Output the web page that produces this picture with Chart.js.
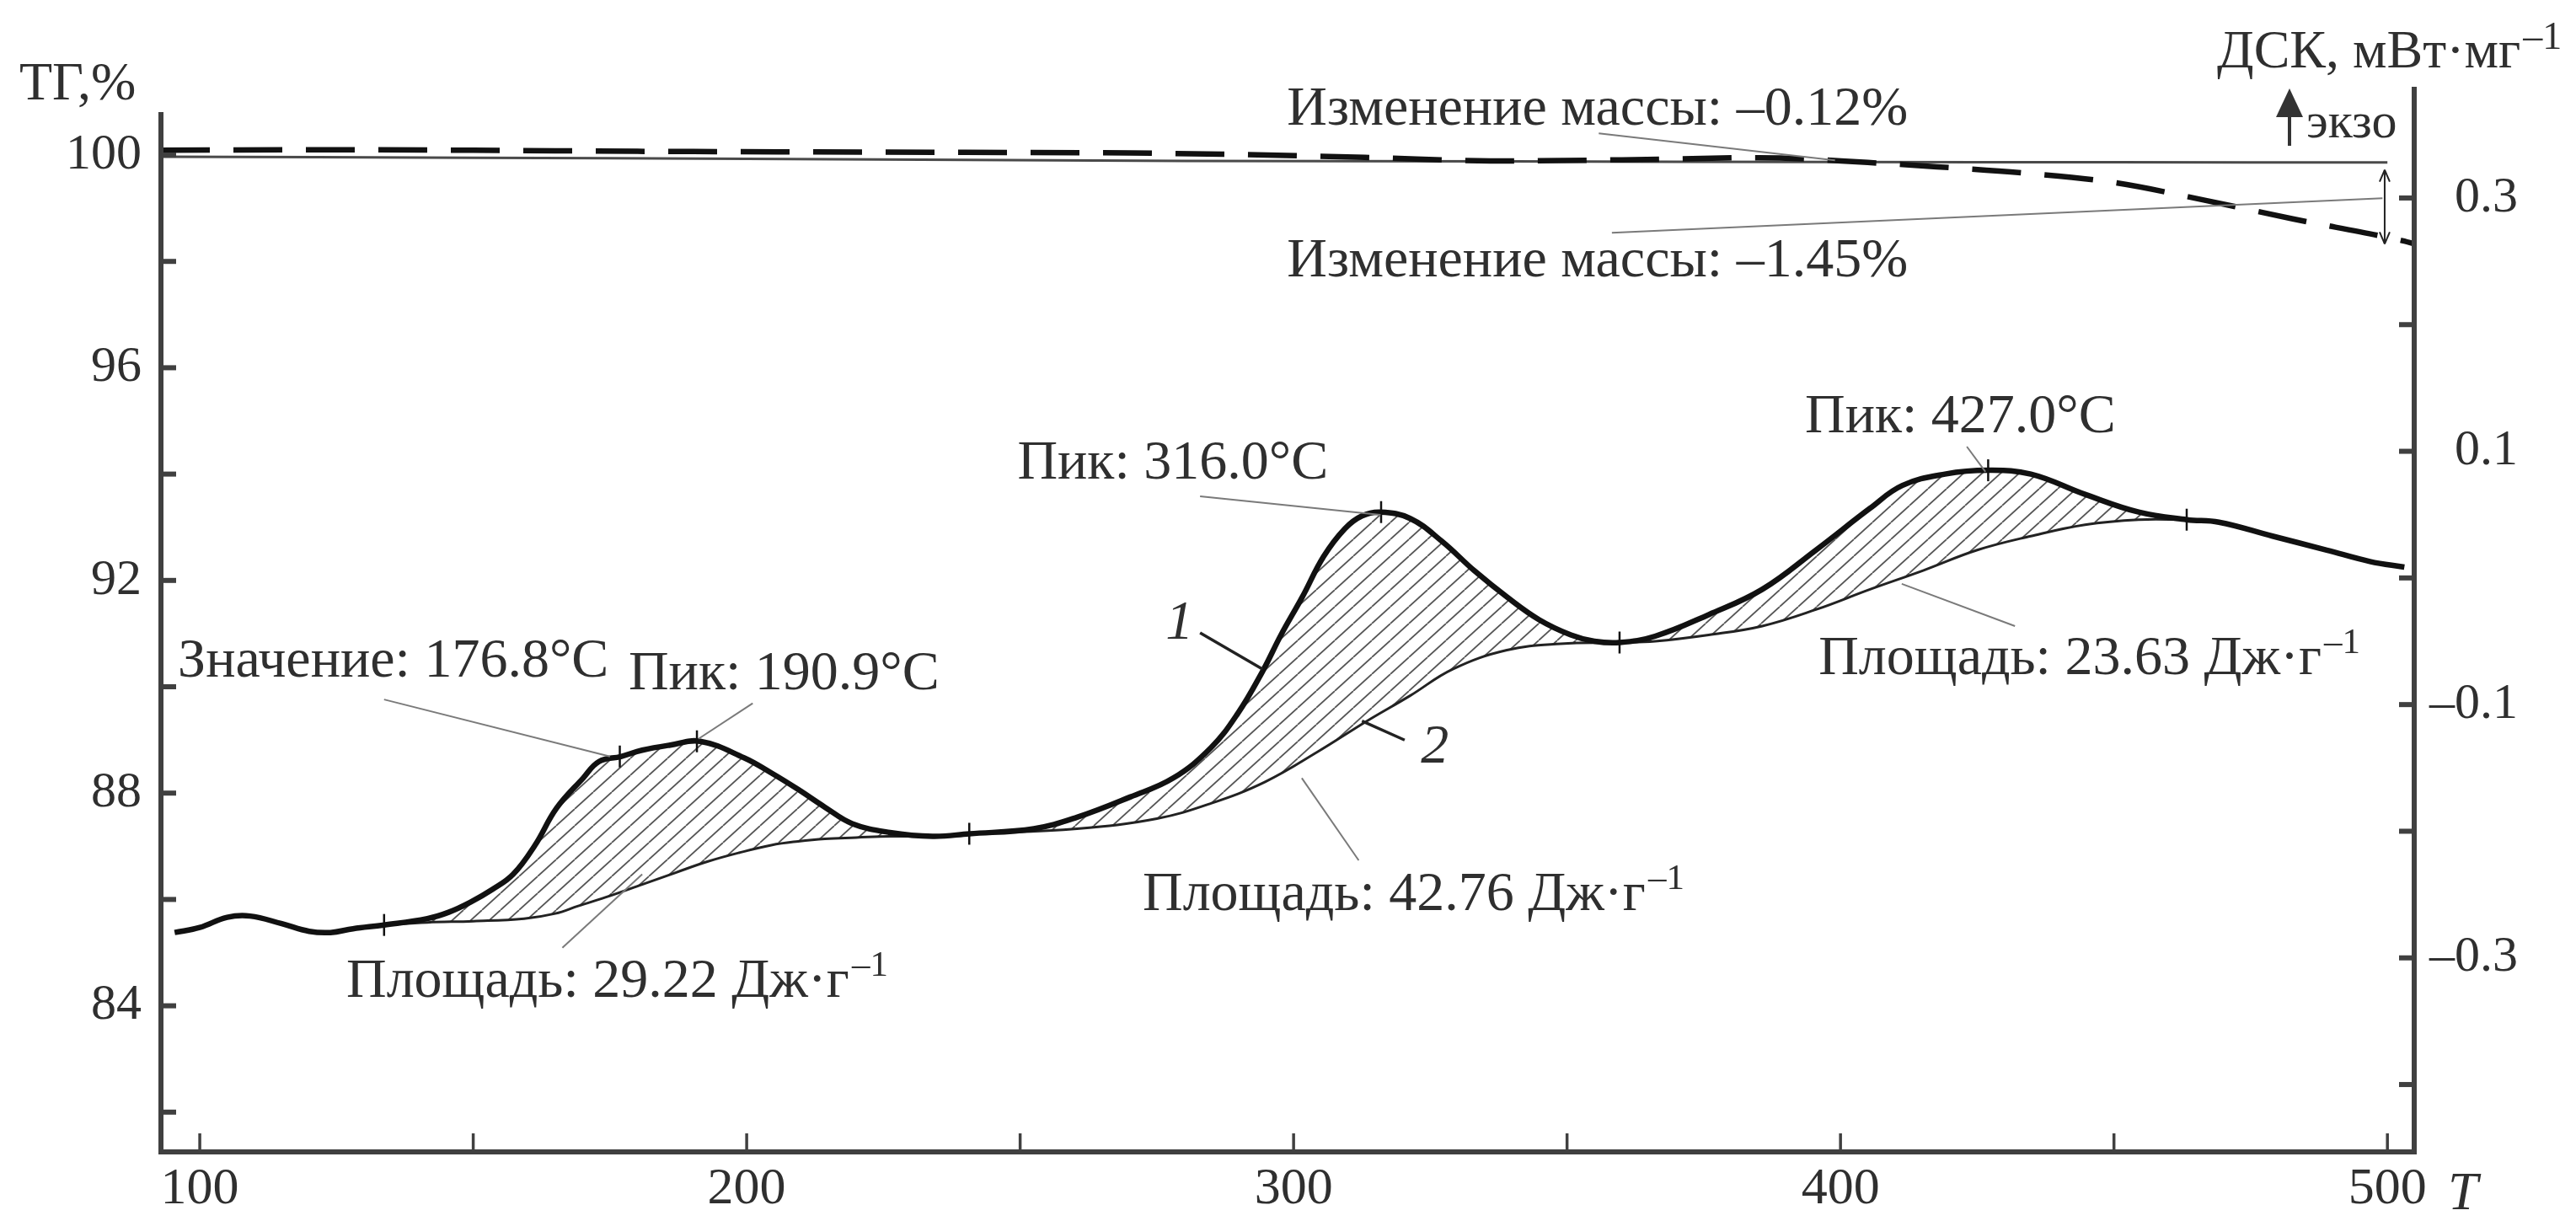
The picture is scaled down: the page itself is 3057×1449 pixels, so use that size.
<!DOCTYPE html>
<html>
<head>
<meta charset="utf-8">
<script src="https://cdn.jsdelivr.net/npm/chart.js@4.4.1/dist/chart.umd.min.js"></script>
<style>
  body { margin: 0; background: #fff; }
  canvas { display: block; }
</style>
</head>
<body>
<canvas id="dscChart" width="3057" height="1449"></canvas>
<script>
// --- TG curves, left axis (%) ---
const tgSolidTemps = [92.9, 150, 200, 280, 340, 400, 450, 500];
const tgSolid      = [99.97, 99.95, 99.93, 99.89, 99.88, 99.87, 99.865, 99.86];

const tgDashTemps = [92.9, 120, 150, 180, 210, 240, 270, 290, 315, 336, 360, 385, 405, 417.6, 433.9, 450.2, 466.6, 482.7, 502.3, 505];
const tgDashed    = [100.09, 100.1, 100.09, 100.07, 100.06, 100.05, 100.04, 100.01, 99.95, 99.89, 99.91, 99.95, 99.86, 99.78, 99.66, 99.48, 99.15, 98.8, 98.4, 98.33];

// --- DSC curve 1 (right axis, mW/mg) ---
const dscTemps = [95.4, 100, 105, 109.2, 115, 120, 123.9, 128, 133.7, 141.6, 145.5, 149.5, 153.5, 157.3, 161.3, 165.2, 170.1, 173, 177, 180.9, 186, 191.5,
  199.5, 204.5, 209.4, 214.3, 219.3, 226.2, 234, 240.7, 252.5, 260.4, 270.1, 278, 284.9, 289.8, 294.3, 297.7, 301.6, 305.5, 309.4, 312.5, 315.9,
  321.3, 327.1, 333.1, 339, 344.9, 350.7, 355, 359.6, 366.1, 375.9, 385.7, 395.5, 405.4, 411.3, 419.1, 427, 434.8, 444.7, 454.5, 463.3, 469.2,
  479, 488.9, 496.8, 503.1];
const dscMain = [-0.280, -0.276, -0.268, -0.267, -0.273, -0.279, -0.280, -0.277, -0.274, -0.269, -0.264, -0.256, -0.246, -0.234, -0.211, -0.182, -0.158, -0.145, -0.141, -0.136, -0.132, -0.129,
  -0.142, -0.154, -0.167, -0.181, -0.194, -0.201, -0.204, -0.202, -0.198, -0.189, -0.173, -0.158, -0.134, -0.107, -0.074, -0.045, -0.015, 0.017, 0.039, 0.049, 0.052,
  0.047, 0.029, 0.0055, -0.015, -0.033, -0.045, -0.050, -0.051, -0.046, -0.029, -0.009, 0.022, 0.055, 0.073, 0.082, 0.085, 0.082, 0.066, 0.052, 0.046, 0.044,
  0.033, 0.022, 0.013, 0.0085];

// --- DSC curve 2 (baseline under the peaks) ---
const baseTemps = [133.7, 141.6, 150, 159.3, 165, 169.2, 175, 180.9, 186.8, 192.8, 198.6, 204.5, 209.4, 214.3, 220, 226.2, 234, 240.7,
  260.4, 275, 284.9, 294.8, 304.5, 313.4, 321.3, 329.1, 339, 348.8, 359.6, 366.1, 375.9, 385.7, 395.5, 405.4, 415.2, 425, 434.8, 444.7, 454.5, 463.3];
const dscBase = [-0.274, -0.272, -0.271, -0.269, -0.265, -0.259, -0.251, -0.242, -0.233, -0.224, -0.217, -0.211, -0.208, -0.206, -0.205, -0.204, -0.204, -0.202,
  -0.198, -0.190, -0.178, -0.161, -0.137, -0.113, -0.093, -0.072, -0.057, -0.052, -0.051, -0.050, -0.045, -0.038, -0.025, -0.009, 0.006, 0.022, 0.033, 0.042, 0.046, 0.046];

// marked points on curve 1
const markTemps = [133.7, 176.8, 190.9, 240.7, 316, 359.6, 427, 463.3];
const markVals  = [-0.274, -0.141, -0.129, -0.202, 0.052, -0.051, 0.085, 0.046];

// ticks and labels
const xTicks = [100, 150, 200, 250, 300, 350, 400, 450, 500];
const xLabels = [100, 200, 300, 400, 500];
const tgTicks = [82, 84, 86, 88, 90, 92, 94, 96, 98, 100];
const tgLabels = [84, 88, 92, 96, 100];
const dscTicks = [-0.4, -0.3, -0.2, -0.1, 0, 0.1, 0.2, 0.3];
const dscLabels = [-0.3, -0.1, 0.1, 0.3];

const serif = '"Liberation Serif", "DejaVu Serif", serif';
const textColor = '#2f2f2f';
const axisColor = '#404040';

const pts = (xs, ys) => xs.map((x, i) => ({ x: x, y: ys[i] }));
const has = (arr, v) => arr.some(a => Math.abs(a - v) < 1e-6);

const canvas = document.getElementById('dscChart');
const ctx = canvas.getContext('2d');

// hatch pattern for the peak areas
function makeHatch() {
  const c = document.createElement('canvas');
  c.width = 22; c.height = 20;
  const g = c.getContext('2d');
  g.strokeStyle = '#555';
  g.lineWidth = 1.8;
  [-22, 0, 22].forEach(dx => {
    g.beginPath(); g.moveTo(dx, 20); g.lineTo(dx + 22, 0); g.stroke();
  });
  return ctx.createPattern(c, 'repeat');
}

// annotations (positions in data units)
const notes = [
  { text: 'Изменение массы: –0.12%', x: 298.8, y: 100.57, axis: 'yTG' },
  { text: 'Изменение массы: –1.45%', x: 298.8, y: 97.72, axis: 'yTG' },
  { text: 'Пик: 316.0°C', x: 249.5, y: 0.0784, axis: 'yDSC' },
  { text: 'Пик: 427.0°C', x: 393.5, y: 0.115, axis: 'yDSC' },
  { text: 'Значение: 176.8°C', x: 96, y: -0.078, axis: 'yDSC' },
  { text: 'Пик: 190.9°C', x: 178.4, y: -0.088, axis: 'yDSC' },
  { text: 'Площадь: 29.22 Дж·г', sup: '–1', x: 126.8, y: -0.331, axis: 'yDSC' },
  { text: 'Площадь: 42.76 Дж·г', sup: '–1', x: 272.4, y: -0.262, axis: 'yDSC' },
  { text: 'Площадь: 23.63 Дж·г', sup: '–1', x: 396, y: -0.076, axis: 'yDSC' },
  { text: '1', italic: true, x: 276.6, y: -0.048, axis: 'yDSC' },
  { text: '2', italic: true, x: 323.3, y: -0.146, axis: 'yDSC' }
];
const leaders = [
  { from: [355.8, 100.41], to: [399, 99.9], axis: 'yTG' },
  { from: [358.2, 98.54], to: [499.1, 99.19], axis: 'yTG' },
  { from: [282.9, 0.0645], to: [315.9, 0.0498], axis: 'yDSC' },
  { from: [423.1, 0.1037], to: [426.5, 0.0838], axis: 'yDSC' },
  { from: [411.2, -0.0047], to: [431.9, -0.038], axis: 'yDSC' },
  { from: [301.5, -0.158], to: [311.9, -0.223], axis: 'yDSC' },
  { from: [133.7, -0.096], to: [175, -0.141], axis: 'yDSC' },
  { from: [201.1, -0.099], to: [191.2, -0.127], axis: 'yDSC' },
  { from: [166.3, -0.292], to: [180.9, -0.234], axis: 'yDSC' },
  { from: [282.9, -0.0433], to: [294.3, -0.072], axis: 'yDSC', dark: true },
  { from: [320.3, -0.128], to: [312.5, -0.113], axis: 'yDSC', dark: true }
];

const decor = {
  id: 'decor',
  afterDraw(chart) {
    const c = chart.ctx, a = chart.chartArea, sc = chart.scales;
    const sx = sc.x, sTG = sc.yTG, sD = sc.yDSC;
    const line = (x1, y1, x2, y2) => { c.beginPath(); c.moveTo(x1, y1); c.lineTo(x2, y2); c.stroke(); };
    c.save();
    c.lineCap = 'butt';

    // axes and inward ticks
    c.strokeStyle = axisColor;
    c.lineWidth = 6;
    sTG.ticks.forEach(t => { const y = sTG.getPixelForValue(t.value); line(a.left, y, a.left + 18, y); });
    sD.ticks.forEach(t => { const y = sD.getPixelForValue(t.value); line(a.right - 18, y, a.right, y); });
    c.lineWidth = 3.5;
    sx.ticks.forEach(t => { const x = sx.getPixelForValue(t.value); line(x, a.bottom, x, a.bottom - 22); });
    c.lineWidth = 6;
    line(a.left, sTG.getPixelForValue(100.81), a.left, a.bottom + 3);
    line(a.right, a.top, a.right, a.bottom + 3);
    line(a.left - 3, a.bottom, a.right + 3, a.bottom);

    // leader lines
    leaders.forEach(l => {
      const ys = sc[l.axis];
      c.strokeStyle = l.dark ? '#222' : '#7a7a7a';
      c.lineWidth = l.dark ? 3.5 : 2;
      line(sx.getPixelForValue(l.from[0]), ys.getPixelForValue(l.from[1]),
           sx.getPixelForValue(l.to[0]), ys.getPixelForValue(l.to[1]));
    });

    // double arrow for the -1.45% mass change
    const ax = sx.getPixelForValue(499.5);
    const ay1 = sTG.getPixelForValue(99.72), ay2 = sTG.getPixelForValue(98.33);
    c.strokeStyle = '#222'; c.lineWidth = 2;
    line(ax, ay1, ax, ay2);
    line(ax - 6, ay1 + 14, ax, ay1); line(ax + 6, ay1 + 14, ax, ay1);
    line(ax - 6, ay2 - 14, ax, ay2); line(ax + 6, ay2 - 14, ax, ay2);

    // annotation texts
    c.fillStyle = textColor;
    c.textAlign = 'left';
    c.textBaseline = 'alphabetic';
    notes.forEach(n => {
      const x = sx.getPixelForValue(n.x), y = sc[n.axis].getPixelForValue(n.y);
      c.font = (n.italic ? 'italic ' : '') + '66px ' + serif;
      c.fillText(n.text, x, y);
      if (n.sup) {
        const w = c.measureText(n.text).width;
        c.font = '43px ' + serif;
        c.fillText(n.sup, x + w + 3, y - 25);
      }
    });

    // axis titles
    c.font = '64px ' + serif;
    c.fillText('ТГ,%', 23, 118);
    const dsk = 'ДСК, мВт·мг';
    c.fillText(dsk, 2631, 80);
    const dw = c.measureText(dsk).width;
    c.font = '46px ' + serif;
    c.fillText('–1', 2631 + dw + 3, 58);
    c.font = 'italic 64px ' + serif;
    c.fillText('T', a.right + 40, a.bottom + 68);

    // exo arrow
    const ex = a.right - 148;
    c.strokeStyle = '#333'; c.lineWidth = 4;
    line(ex, a.top + 30, ex, a.top + 70);
    c.fillStyle = '#333';
    c.beginPath(); c.moveTo(ex, a.top + 2); c.lineTo(ex - 16, a.top + 36); c.lineTo(ex + 16, a.top + 36); c.closePath(); c.fill();
    c.fillStyle = textColor;
    c.font = '60px ' + serif;
    c.fillText('экзо', a.right - 128, a.top + 60);

    c.restore();
  }
};

const tickFont = size => ({ family: serif, size: size });

new Chart(ctx, {
  type: 'line',
  data: {
    datasets: [
      { label: 'ДСК 1', data: pts(dscTemps, dscMain), yAxisID: 'yDSC', borderColor: '#111', borderWidth: 6.5,
        pointRadius: 0, tension: 0.4, fill: false, order: 1 },
      { label: 'ДСК 2', data: pts(baseTemps, dscBase), yAxisID: 'yDSC', borderColor: '#222', borderWidth: 3,
        pointRadius: 0, tension: 0.4, fill: '-1', backgroundColor: makeHatch(), order: 2 },
      { label: 'ТГ 2', data: pts(tgSolidTemps, tgSolid), yAxisID: 'yTG', borderColor: '#4a4a4a', borderWidth: 3,
        pointRadius: 0, tension: 0.3, fill: false, order: 4 },
      { label: 'ТГ 1', data: pts(tgDashTemps, tgDashed), yAxisID: 'yTG', borderColor: '#111', borderWidth: 6.5,
        borderDash: [58, 28], pointRadius: 0, cubicInterpolationMode: 'monotone', fill: false, order: 3 },
      { label: 'marks', data: pts(markTemps, markVals), yAxisID: 'yDSC', showLine: false, pointStyle: 'line',
        rotation: 90, pointRadius: 13, pointBorderWidth: 2.5, borderColor: '#111', order: 0 }
    ]
  },
  options: {
    responsive: false,
    animation: false,
    devicePixelRatio: 1,
    layout: { padding: { top: 103, right: 69, left: 0, bottom: 0 } },
    plugins: { legend: { display: false }, tooltip: { enabled: false } },
    scales: {
      x: {
        type: 'linear', min: 92.9, max: 504.9,
        afterBuildTicks: s => { s.ticks = xTicks.map(v => ({ value: v })); },
        afterFit: s => { s.height = 82; },
        grid: { display: false, drawTicks: false },
        border: { display: false },
        ticks: { padding: 8, autoSkip: false, maxRotation: 0, color: textColor, font: tickFont(62),
          callback: v => has(xLabels, v) ? String(v) : '' }
      },
      yTG: {
        position: 'left', min: 81.252, max: 101.284,
        afterBuildTicks: s => { s.ticks = tgTicks.map(v => ({ value: v })); },
        afterFit: s => { s.width = 191; },
        grid: { display: false, drawTicks: false },
        border: { display: false },
        ticks: { padding: 23, autoSkip: false, color: textColor, font: tickFont(60),
          callback: v => has(tgLabels, v) ? String(v) : '' }
      },
      yDSC: {
        position: 'right', min: -0.4532, max: 0.3878,
        afterBuildTicks: s => { s.ticks = dscTicks.map(v => ({ value: v })); },
        afterFit: s => { s.width = 123; },
        grid: { display: false, drawTicks: false },
        border: { display: false },
        ticks: { crossAlign: 'far', autoSkip: false, color: textColor, font: tickFont(60),
          callback: v => has(dscLabels, v) ? v.toFixed(1).replace('-', '–') : '' }
      }
    }
  },
  plugins: [decor]
});
</script>
</body>
</html>
